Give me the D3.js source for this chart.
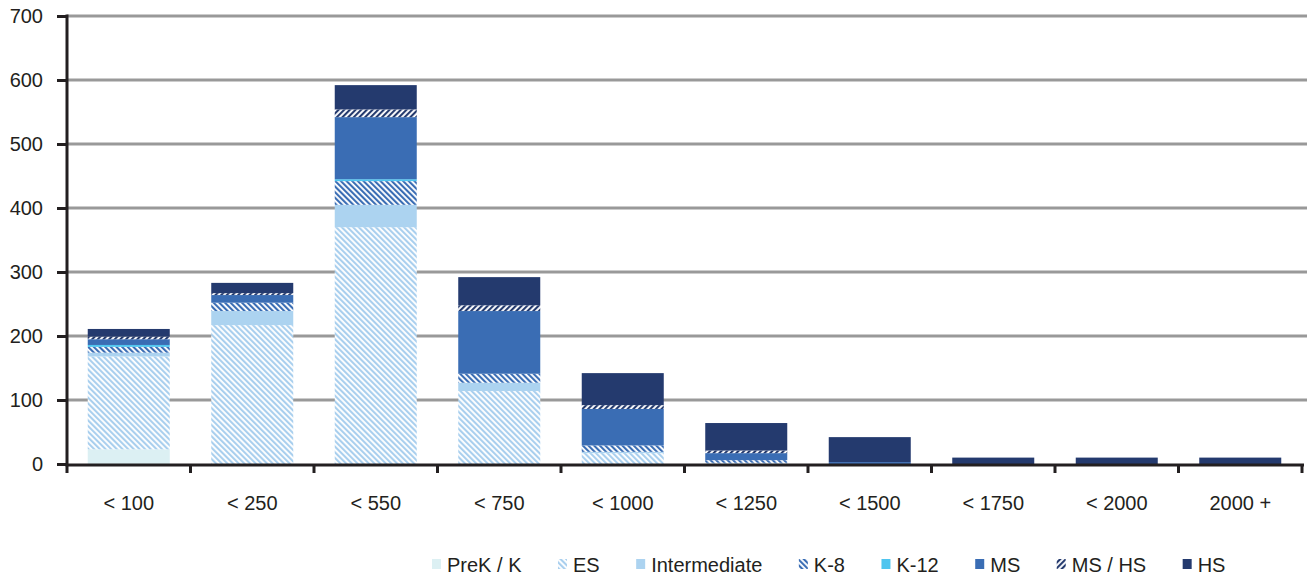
<!DOCTYPE html>
<html>
<head>
<meta charset="utf-8">
<script src="https://cdn.jsdelivr.net/npm/d3@7"></script>
<style>
  html, body { margin: 0; padding: 0; background: #fff; }
  svg { display: block; font-family: "Liberation Sans", Arial, sans-serif; }
</style>
</head>
<body>
<svg id="chart" width="1307" height="577"></svg>
<script>
// ---- data ----
const categories = ["< 100", "< 250", "< 550", "< 750", "< 1000", "< 1250", "< 1500", "< 1750", "< 2000", "2000 +"];
const seriesNames = ["PreK / K", "ES", "Intermediate", "K-8", "K-12", "MS", "MS / HS", "HS"];
const prekK        = [23,   0,   0,   0,  0, 0,  0,  0,  0,  0];
const es           = [145, 217, 370, 114, 17, 2,  0,  0,  0,  0];
const intermediate = [6,   22,  35,  13,  2,  0,  0,  0,  0,  0];
const k8           = [9,   13,  37,  14,  10, 4,  0,  0,  0,  0];
const k12          = [3,   0,   3,   0,   0,  0,  0,  0,  0,  0];
const ms           = [9,   12,  97,  98,  57, 11, 3,  0,  0,  0];
const msHs         = [4,   3,   12,  9,   6,  4,  0,  0,  0,  0];
const hs           = [12,  16,  38,  44,  50, 43, 39, 10, 10, 10];
const yTicks = [0, 100, 200, 300, 400, 500, 600, 700];

const seriesValues = [prekK, es, intermediate, k8, k12, ms, msHs, hs];

// ---- layout ----
const svg = d3.select("#chart");
const ink = "#231f20";
const x = d3.scaleBand().domain(categories).range([67, 1302]).paddingInner(0.336).paddingOuter(0.168);
const y = d3.scaleLinear().domain([0, 700]).range([464, 16]);

// patterns
const defs = svg.append("defs");
function hatch(id, color, angle, bg) {
  const p = defs.append("pattern").attr("id", id).attr("patternUnits", "userSpaceOnUse")
    .attr("width", 4).attr("height", 4).attr("patternTransform", `rotate(${angle})`);
  p.append("rect").attr("width", 4).attr("height", 4).attr("fill", bg);
  p.append("rect").attr("x", 0).attr("y", 0).attr("width", 2.1).attr("height", 4).attr("fill", color);
}
hatch("hES", "#a9cfee", -45, "#ffffff");
hatch("hK8", "#3a6db4", -45, "#ffffff");
hatch("hMSHS", "#243a6e", 45, "#ffffff");

const fills = ["#dcf0f3", "url(#hES)", "#acd3f0", "url(#hK8)", "#4fc5ef", "#3a6db4", "url(#hMSHS)", "#243a6e"];

// gridlines
svg.append("g").selectAll("line").data(yTicks.filter(d => d > 0)).join("line")
  .attr("x1", 67).attr("x2", 1307)
  .attr("y1", d => y(d)).attr("y2", d => y(d))
  .attr("stroke", "#999999").attr("stroke-width", 3);

// stacked data
const table = categories.map((c, i) => {
  const o = { cat: c };
  seriesNames.forEach((s, j) => o[s] = seriesValues[j][i]);
  return o;
});
const stack = d3.stack().keys(seriesNames)(table);

svg.append("g").selectAll("g").data(stack).join("g")
  .attr("fill", (d, i) => fills[i])
  .selectAll("rect").data(d => d.filter(v => v[1] - v[0] > 0)).join("rect")
  .attr("x", d => x(d.data.cat))
  .attr("width", x.bandwidth())
  .attr("y", d => y(d[1]))
  .attr("height", d => y(d[0]) - y(d[1]));

// y axis
const yAxis = svg.append("g").attr("transform", "translate(67,0)")
  .call(d3.axisLeft(y).tickValues(yTicks).tickSize(10).tickPadding(14).tickFormat(d3.format("d")));
yAxis.select(".domain").remove();
yAxis.selectAll(".tick line").attr("stroke", ink).attr("stroke-width", 3);
yAxis.selectAll(".tick text").attr("fill", ink).attr("font-size", 20)
  .attr("font-family", "'Liberation Sans', Arial, sans-serif");
svg.append("line").attr("x1", 67).attr("x2", 67).attr("y1", 14.5).attr("y2", 473)
  .attr("stroke", ink).attr("stroke-width", 3);

// x axis
const xAxis = svg.append("g").attr("transform", "translate(0,464)")
  .call(d3.axisBottom(x).tickSize(0).tickPadding(0));
xAxis.select(".domain").remove();
xAxis.selectAll(".tick text").attr("fill", ink).attr("font-size", 20)
  .attr("font-family", "'Liberation Sans', Arial, sans-serif")
  .attr("y", 46).attr("dy", 0);
svg.append("line").attr("x1", 65.5).attr("x2", 1304).attr("y1", 465).attr("y2", 465)
  .attr("stroke", ink).attr("stroke-width", 3);
const bounds = d3.range(1, categories.length + 1).map(i => x.range()[0] + i * x.step());
svg.append("g").selectAll("line").data(bounds).join("line")
  .attr("x1", d => d).attr("x2", d => d).attr("y1", 465).attr("y2", 473)
  .attr("stroke", ink).attr("stroke-width", 3);

// legend
const leg = svg.append("g");
let lx = 432;
seriesNames.forEach((s, i) => {
  leg.append("rect").attr("x", lx).attr("y", 559).attr("width", 9).attr("height", 10).attr("fill", fills[i]);
  const t = leg.append("text").attr("x", lx + 15).attr("y", 571.5).attr("font-size", 20)
    .attr("fill", ink).text(s);
  lx += 15 + t.node().getComputedTextLength() + 36.5;
});
</script>
</body>
</html>
